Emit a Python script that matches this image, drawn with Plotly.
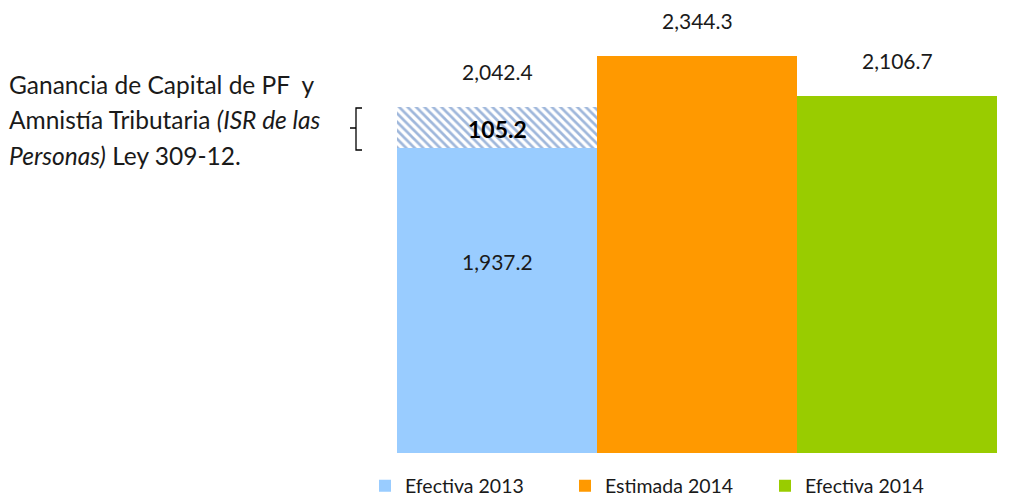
import plotly.graph_objects as go

# ── Data ─────────────────────────────────────────────────────────────────────
categories = ["Efectiva 2013", "Estimada 2014", "Efectiva 2014"]
bar_colors = ["#99CCFF", "#FF9900", "#99CC00"]

# values printed on the chart
label_totals = [2042.4, 2344.3, 2106.7]
label_base_2013 = 1937.2
label_extra_2013 = 105.2

# heights as drawn in the picture (the hatched block is drawn larger than scale)
drawn_base_2013 = 1800.0
drawn_extra_2013 = 242.4
drawn_2014 = [2344.3, 2106.7]

note_lines = [
    "Ganancia de Capital de PF  y",
    "Amnistía Tributaria <i>(ISR de las</i>",
    "<i>Personas)</i> Ley 309-12.",
]

_FONT = "Lato, 'Open Sans', sans-serif"
_TXT = "#1A1A1A"

# the page body adds an 8px margin, so the figure is drawn 8px smaller
OFF = 8
W, H = 1019 - OFF, 496 - OFF
M_L, M_R, M_T, M_B = 397 - OFF, 22, 20 - OFF, 43
PLOT_H = H - M_T - M_B


def py_to_paper(py):
    # py: pixel row in the final screenshot
    return (H - M_B - (py - OFF)) / PLOT_H


def px_to_paper(px):
    return (px - OFF - M_L) / (W - M_L - M_R)


def fmt(v):
    return f"{v:,.1f}"


fig = go.Figure()

fig.add_trace(go.Bar(
    x=[categories[0]], y=[drawn_base_2013], name=categories[0],
    marker=dict(color=bar_colors[0], line=dict(width=0)),
))
fig.add_trace(go.Bar(
    x=[categories[0]], y=[drawn_extra_2013], showlegend=False,
    marker=dict(color="white", line=dict(width=0),
                pattern=dict(shape="\\", fgcolor="#3F6FB8", bgcolor="white",
                             size=6, solidity=0.45)),
))
for cat, val, col in zip(categories[1:], drawn_2014, bar_colors[1:]):
    fig.add_trace(go.Bar(
        x=[cat], y=[val], name=cat,
        marker=dict(color=col, line=dict(width=0)),
    ))

# value labels
drawn_tops = [drawn_base_2013 + drawn_extra_2013] + drawn_2014
for cat, top, lab in zip(categories, drawn_tops, label_totals):
    fig.add_annotation(x=cat, y=top, text=fmt(lab), showarrow=False,
                       yanchor="bottom", yshift=21,
                       font=dict(size=21, color=_TXT, family=_FONT))
fig.add_annotation(x=categories[0], y=drawn_base_2013 + drawn_extra_2013 / 2,
                   text=f"<b>{fmt(label_extra_2013)}</b>", showarrow=False,
                   yshift=-1, font=dict(size=23, color="#000", family=_FONT))
fig.add_annotation(x=categories[0], y=drawn_base_2013 / 2,
                   text=fmt(label_base_2013), showarrow=False, yshift=39,
                   font=dict(size=21, color=_TXT, family=_FONT))

# explanatory note on the left
for i, line in enumerate(note_lines):
    fig.add_annotation(xref="paper", yref="paper",
                       x=px_to_paper(7), y=py_to_paper(84 + i * 35.5),
                       xanchor="left", yanchor="middle", text=line,
                       showarrow=False,
                       font=dict(size=24.5, color=_TXT, family=_FONT))

# bracket "{"
bx0, bx1, bxm = px_to_paper(356), px_to_paper(362), px_to_paper(350)
by_top, by_bot, by_mid = py_to_paper(108), py_to_paper(150), py_to_paper(128)
fig.add_shape(type="path", xref="paper", yref="paper",
              path=(f"M {bx1} {by_top} L {bx0} {by_top} L {bx0} {by_bot} "
                    f"L {bx1} {by_bot} M {bx0} {by_mid} L {bxm} {by_mid}"),
              line=dict(color="#000", width=1.3))

fig.update_layout(
    width=W, height=H,
    barmode="stack", bargap=0,
    paper_bgcolor="white", plot_bgcolor="white",
    margin=dict(l=M_L, r=M_R, t=M_T, b=M_B, autoexpand=False),
    font=dict(family=_FONT, color=_TXT, size=18),
    xaxis=dict(visible=False, range=[-0.5, 2.5]),
    yaxis=dict(visible=False, range=[0, PLOT_H / (346 / 2042.4)]),
    showlegend=True,
    legend=dict(orientation="h", xref="container", yref="container",
                x=(365 - OFF) / W, xanchor="left",
                y=1 - (486 - OFF) / H, yanchor="middle",
                entrywidth=155, entrywidthmode="pixels",
                font=dict(size=19.5, color=_TXT, family=_FONT),
                itemwidth=30, traceorder="normal"),
)

fig.write_html("out.html")
